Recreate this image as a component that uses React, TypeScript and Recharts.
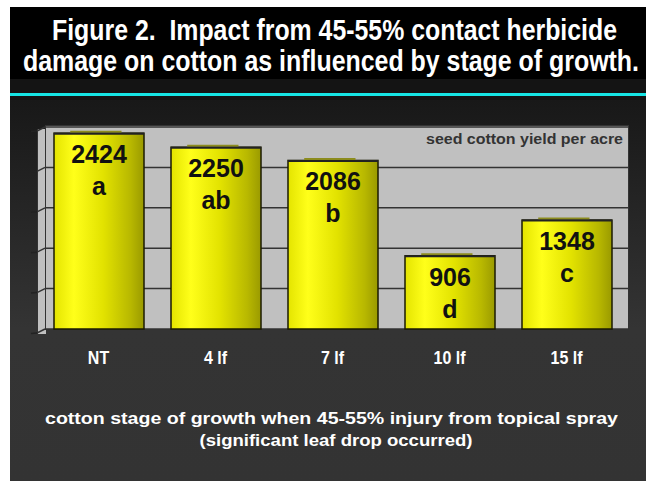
import React from 'react';
import { BarChart, Bar, XAxis, YAxis, CartesianGrid, LabelList } from 'recharts';

const stages = ['NT', '4 lf', '7 lf', '10 lf', '15 lf'];
const yields = [2424, 2250, 2086, 906, 1348];
const letters = ['a', 'ab', 'b', 'd', 'c'];
const yTicks = [0, 500, 1000, 1500, 2000, 2500];

const titleLines = [
  'Figure 2.  Impact from 45-55% contact herbicide',
  'damage on cotton as influenced by stage of growth.',
];
const unitLabel = 'seed cotton yield per acre';
const axisTitleLines = [
  'cotton stage of growth when 45-55% injury from topical spray',
  '(significant leaf drop occurred)',
];

const data = stages.map((s, i) => ({ stage: s, value: yields[i], letter: letters[i] }));

const SANS = '"Liberation Sans", Arial, sans-serif';

const CylBar = (props: any) => {
  const { x, y, width, height } = props;
  return (
    <g>
      <rect x={x} y={y} width={width} height={height} fill="url(#cylGrad)" stroke="#1a1a00" strokeWidth={1.5} />
      <line x1={x + width * 0.18} x2={x + width * 0.75} y1={y - 1.5} y2={y - 1.5} stroke="#8c8c1e" strokeWidth={2} />
      <line x1={x} x2={x + width} y1={y + 0.5} y2={y + 0.5} stroke="#222" strokeWidth={2} />
    </g>
  );
};

const gridLine = (p: any) => {
  const y = p.y1;
  return (
    <g key={p.key}>
      <line x1={45} x2={629} y1={y} y2={y} stroke="#333" strokeWidth={1.5} />
      <line x1={37} x2={45} y1={y + 4} y2={y} stroke="#333" strokeWidth={1.5} />
      <line x1={31} x2={37} y1={y + 4.5} y2={y + 4} stroke="#222" strokeWidth={1.5} />
    </g>
  );
};

const Tick = (props: any) => {
  const { x, payload } = props;
  return (
    <text transform={`translate(${x} 364) scale(1 1.12)`} x={0} y={0} textAnchor="middle" fill="#fff" fontFamily={SANS} fontWeight="bold" fontSize={16}>
      {payload.value}
    </text>
  );
};

const BarLabel = (props: any) => {
  const { x, y, width, index } = props;
  const cx = x + width / 2;
  return (
    <g>
      <text x={cx} y={y + 30} textAnchor="middle" fill="#111" fontFamily={SANS} fontWeight="bold" fontSize={25}>
        {yields[index]}
      </text>
      <text x={cx} y={y + 62} textAnchor="middle" fill="#111" fontFamily={SANS} fontWeight="bold" fontSize={25}>
        {letters[index]}
      </text>
    </g>
  );
};

export default function App() {
  return (
    <div style={{ position: 'absolute', left: 0, top: 0, width: 646, height: 481, background: '#fff', overflow: 'hidden' }}>
      <div style={{ position: 'absolute', left: 10, top: 7, width: 636, height: 72, background: '#000' }} />
      <div style={{ position: 'absolute', left: 10, top: 79, width: 636, height: 21, background: '#141414' }} />
      <div style={{ position: 'absolute', left: 10, top: 93, width: 636, height: 3, background: '#16e4e4' }} />
      <div style={{ position: 'absolute', left: 10, top: 100, width: 636, height: 381, background: 'linear-gradient(#181818, #343434 60%, #333333)' }} />
      <div style={{ position: 'absolute', left: 37, top: 129, width: 8, height: 205, background: '#c0c0c0', borderLeft: '1px solid #333' }} />
      <div style={{ position: 'absolute', left: 45, top: 125, width: 584, height: 205, background: '#c0c0c0', border: '1px solid #333', boxSizing: 'border-box' }} />
      <div style={{ position: 'absolute', left: 0, top: 0 }}>
        <BarChart width={646} height={481} data={data} margin={{ top: 127, bottom: 122, left: 40, right: 21 }}>
          <defs>
            <linearGradient id="cylGrad" x1="0" y1="0" x2="1" y2="0">
              <stop offset="0%" stopColor="#e4e400" />
              <stop offset="22%" stopColor="#ffff1a" />
              <stop offset="55%" stopColor="#e2e200" />
              <stop offset="85%" stopColor="#b8b800" />
              <stop offset="100%" stopColor="#9a9a00" />
            </linearGradient>
          </defs>
          <CartesianGrid vertical={false} horizontal={gridLine} />
          <YAxis hide domain={[0, 2500]} ticks={yTicks} />
          <XAxis dataKey="stage" axisLine={false} tickLine={false} tick={<Tick />} interval={0} height={30} />
          <Bar dataKey="value" barSize={90} shape={<CylBar />} isAnimationActive={false}>
            <LabelList dataKey="value" content={<BarLabel />} />
          </Bar>
        </BarChart>
      </div>
      <svg width={646} height={481} style={{ position: 'absolute', left: 0, top: 0, pointerEvents: 'none' }}>
        <text transform="translate(334.5 40) scale(1 1.16)" x={0} y={0} textAnchor="middle" fill="#fff" fontFamily={SANS} fontWeight="bold" fontSize={25} textLength={565} lengthAdjust="spacingAndGlyphs" style={{ whiteSpace: 'pre' }}>
          {titleLines[0]}
        </text>
        <text transform="translate(331 71) scale(1 1.16)" x={0} y={0} textAnchor="middle" fill="#fff" fontFamily={SANS} fontWeight="bold" fontSize={25} textLength={616} lengthAdjust="spacingAndGlyphs">
          {titleLines[1]}
        </text>
        <text x={623} y={144} textAnchor="end" fill="#333" fontFamily={SANS} fontWeight="bold" fontSize={14} textLength={197} lengthAdjust="spacingAndGlyphs">
          {unitLabel}
        </text>
        <text x={331.5} y={424} textAnchor="middle" fill="#fff" fontFamily={SANS} fontWeight="bold" fontSize={17} textLength={573} lengthAdjust="spacingAndGlyphs">
          {axisTitleLines[0]}
        </text>
        <text x={336} y={446} textAnchor="middle" fill="#fff" fontFamily={SANS} fontWeight="bold" fontSize={17} textLength={273} lengthAdjust="spacingAndGlyphs">
          {axisTitleLines[1]}
        </text>
      </svg>
    </div>
  );
}
